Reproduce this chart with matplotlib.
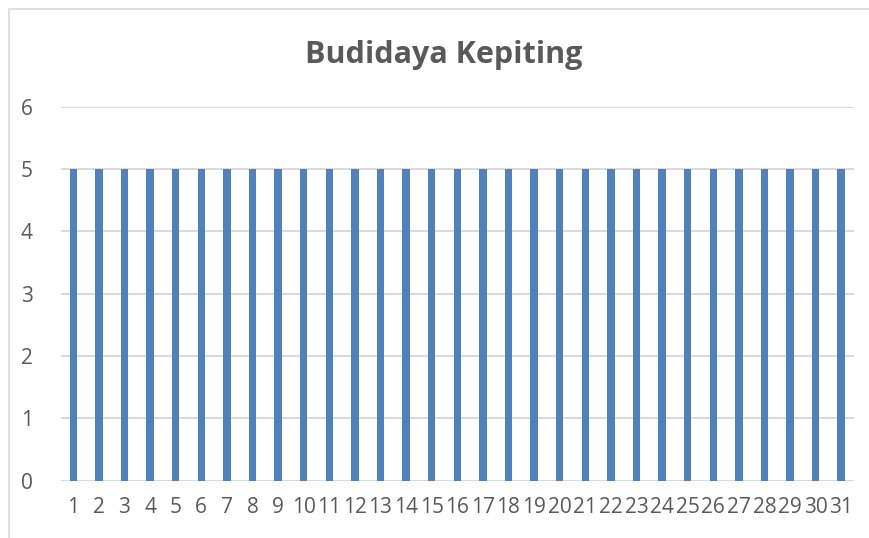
import matplotlib
matplotlib.use("Agg")
import matplotlib.pyplot as plt
from matplotlib.patches import Rectangle

days = [str(d) for d in range(1, 32)]
values = [5, 5, 5, 5, 5, 5, 5, 5, 5, 5,
          5, 5, 5, 5, 5, 5, 5, 5, 5, 5,
          5, 5, 5, 5, 5, 5, 5, 5, 5, 5, 5]
yticks = [0, 1, 2, 3, 4, 5, 6]

BAR = "#4F81BD"
GRID = "#D9D9D9"
TEXT = "#595959"

plt.rcParams["font.family"] = ["Open Sans", "DejaVu Sans"]

fig = plt.figure(figsize=(8.69, 5.38), dpi=100)
ax = fig.add_axes([60.5 / 869, 0.1065, 793.5 / 869, 0.695])

x = range(len(days))
ax.bar(x, values, width=0.29, color=BAR, zorder=3)
ax.set_xlim(-0.5, len(days) - 0.5)
ax.set_ylim(0, 6)
ax.set_yticks(yticks)
ax.set_xticks(list(x))
ax.set_xticklabels(days)

for y in yticks:
    ax.axhline(y, color=GRID, lw=1.4, zorder=1)
for s in ax.spines.values():
    s.set_visible(False)
ax.tick_params(length=0, labelsize=15, colors=TEXT)
ax.tick_params(axis="y", pad=20)
ax.tick_params(axis="x", pad=12)

fig.text(0.510, 0.882, "Budidaya Kepiting", ha="center", va="baseline",
         fontsize=22, fontweight="bold", color=TEXT)

# chart frame (cropped at right and bottom)
fig.add_artist(Rectangle((9 / 869, -0.1), 1.2, 529 / 538 + 0.1,
                         transform=fig.transFigure, fill=False,
                         edgecolor=GRID, lw=1.2))

fig.savefig("out.png", dpi=100)
